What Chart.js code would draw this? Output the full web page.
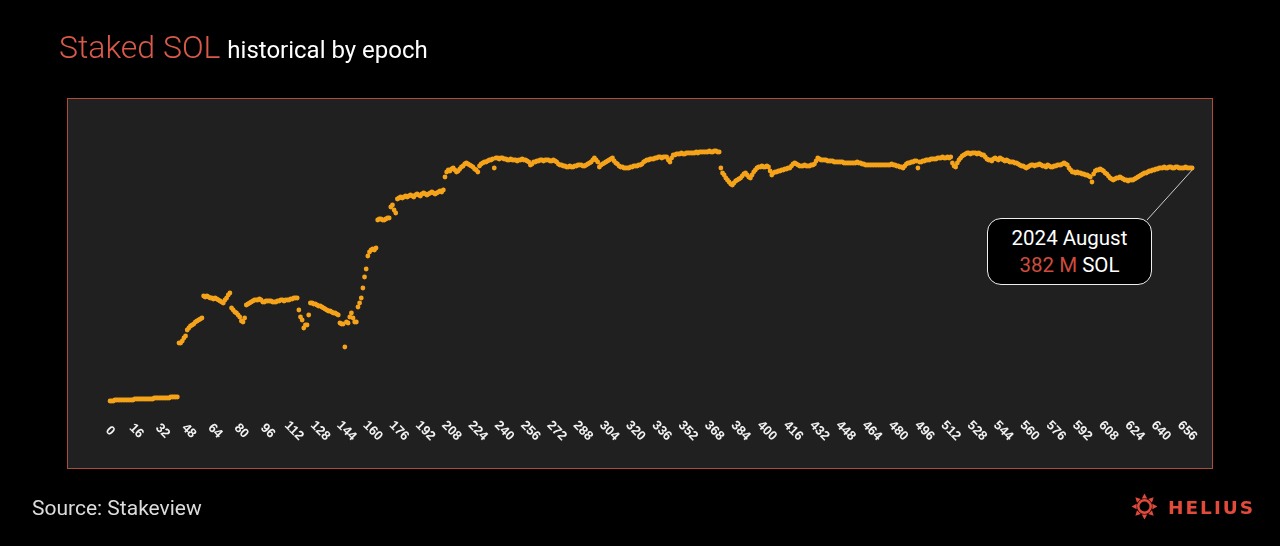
<!DOCTYPE html>
<html>
<head>
<meta charset="utf-8">
<script src="https://cdn.jsdelivr.net/npm/chart.js@4.4.1/dist/chart.umd.min.js"></script>
<style>
  html,body{margin:0;padding:0;background:#000;}
  #wrap{position:relative;width:1280px;height:546px;overflow:hidden;background:#000;font-family:Roboto,"Noto Sans",sans-serif;}
  #chartBox{position:absolute;left:0;top:0;width:1280px;height:546px;}
  #title{position:absolute;left:59px;top:31px;line-height:32px;white-space:nowrap;font-weight:300;}
  #title .a{color:#d95a4a;font-size:32px;}
  #title .b{color:#fff;font-size:24px;font-weight:400;margin-left:3px;}
  #source{position:absolute;left:32px;top:498px;font-size:21px;line-height:21px;color:#dcdcdc;}
  #logo{position:absolute;left:1131px;top:493px;width:27px;height:27px;}
  #logoText{position:absolute;left:1168px;top:499px;font-family:"DejaVu Sans",sans-serif;font-weight:bold;font-size:18.5px;line-height:18px;letter-spacing:2px;color:#e24a3b;}
  #note{position:absolute;left:987px;top:218px;width:165px;height:67px;box-sizing:border-box;border:1.5px solid #eee;border-radius:14px;background:#000;text-align:center;padding-top:6px;font-size:20.5px;line-height:27px;color:#fff;}
  #note .r{color:#cf4b3e;}
</style>
</head>
<body>
<div id="wrap">
  <div id="chartBox"><canvas id="c"></canvas></div>
  <div id="title"><span class="a">Staked SOL</span> <span class="b">historical by epoch</span></div>
  <div id="note"><div>2024 August</div><div><span class="r">382 M</span> SOL</div></div>
  <div id="source">Source: Stakeview</div>
  <svg id="logo" viewBox="-13 -13 26 26">
    <circle cx="0" cy="0" r="6" fill="none" stroke="#e24a3b" stroke-width="2.4"/>
    <g fill="#e24a3b">
      <polygon points="-2.6,-7.6 2.6,-7.6 0,-12.5"/>
      <polygon points="-2.6,-7.6 2.6,-7.6 0,-12.5" transform="rotate(45)"/>
      <polygon points="-2.6,-7.6 2.6,-7.6 0,-12.5" transform="rotate(90)"/>
      <polygon points="-2.6,-7.6 2.6,-7.6 0,-12.5" transform="rotate(135)"/>
      <polygon points="-2.6,-7.6 2.6,-7.6 0,-12.5" transform="rotate(180)"/>
      <polygon points="-2.6,-7.6 2.6,-7.6 0,-12.5" transform="rotate(225)"/>
      <polygon points="-2.6,-7.6 2.6,-7.6 0,-12.5" transform="rotate(270)"/>
      <polygon points="-2.6,-7.6 2.6,-7.6 0,-12.5" transform="rotate(315)"/>
    </g>
  </svg>
  <div id="logoText">HELIUS</div>
</div>
<script>
// Staked SOL (millions) per epoch, grouped in runs; each run starts at the epoch in segStarts
const segStarts = [0, 42, 57, 74, 83, 115, 122, 140, 158, 163, 171, 175, 203, 227, 243, 258, 273, 292, 327, 354, 372, 406, 434, 458, 485, 511, 536, 558, 639];
const segValues = [
  [149,149,149,150,150,150,150,150,150,150, 150,150,150,150,150,151,151,151,151,151, 151,151,151,151,151,151,151,152,152,152, 152,152,152,152,152,152,152,153,153,153, 153,153],
  [207,207,209,212,214,220,222,224,225,226,228,229,230,231,232],
  [254,253,254,253,252,252,251,252,251,250,249,248,247,250,252,255,257],
  [242,240,238,237,235,233,229,228,232],
  [245,246,247,248,249,250,250,250,251,250, 248,248,249,249,249,249,248,248,248,249, 249,250,250,249,250,250,250,251,251,252, 252,252],
  [240,233,230,222,225,225,235],
  [247,247,246,246,245,244,244,243,242,241,240,239,239,238,237,237,236,235],
  [227,226,226,203,228,227,233,237,232,228,228,243,247,252,262,273,281,294],
  [298,300,301,300,302],
  [330,331,331,330,330,331,332,332],
  [343,345,340,337],
  [351,352,353,352,353,354,353,354,355,354,353,355,356,355,354,356,357,356,355,356,357,358,357,356,357,358,359,358],
  [360,373,378,380,379,381,382,380,378,379, 381, 383,384,386, 387, 386,385,384,383,381,380, 378, 384,386],
  [387,388,388,389,390,390,391,382,392,392,391,392,392,391,391,390],
  [390,391,390,390,390,389,390,390,391,390,390,389,388,385,386],
  [388,388,389,389,390,390,389,390,390,390,389,389,390,389,388],
  [386,385,385,384,384,383,383,384,383,383,384,384,385,385,385,384,384,385,386],
  [387,388,390,392,390,388, 383, 385,386,387,388,389,390,391, 392, 389,387,386,384, 383,383,382,382,382, 382,383,383,384,384,384,385, 385, 386,388,389],
  [390,390,391,391,391,392,392,393,393,392,393,393,393, 390,388,392, 395,395,396,396,396,397,396,396,397,397,397],
  [397,397,397,398,397,398,398,398,398,398,398,399,398,398,399,399,398,398],
  [382,377,375,372,370,368,366,365,367,369, 370,371,372,374,376,377,375,373,372,375, 378,380,382,383, 383,384,383,383,384,383, 379,375,377,378],
  [378,379,379,380,380,381,381,382,382, 384,386, 387, 386,385, 384,384,384,385,384,384,384,385,385,386, 389,392,391,390],
  [390,390,390,389,389,389,389,388,388,388,388,388,388,387,387,387,387,387,387,387,387,388,387,387],
  [386,386,385,385,385,385,385,385,385,385,385,385,385,385,385,385,385,385,386,385,385,384,384,383, 383,382,384],
  [386,387,387,388,388,389,389,382,388,388, 389,389,390,390,390,391,391,391,391,392, 392,392,393,392,392,393],
  [392,393, 387,384,383, 387,390,392,394,395,396, 397,397,396,397,397,397,396,397,396,395,395, 393,391,390],
  [390, 389,391,392,391,390, 392, 391,390,389,390,389,388,388, 388, 387,387, 386,385,384,384,383],
  [382,383,384,385,385,384,385,385,386,
   385,384,384,383,385,384,383,383,384,384,385,385,
   385,386,387,386,385,
   382,380,378,
   378,377,378,377,
   377,
   376,376,375,
   375,374,373,368,376,379,
   380,380,381,380,379,
   377,376,374,372,371,
   370,
   371,372,372,
   373,
   372,371,370,370,369,370,370,
   370,
   371,372,373,374,375,376,377,377,
   378,
   379,379,380,380,381,381],
  [382,382,382,383,382,382,383,383,382,382,383,383,382,382,382,382,383,382,382,382,382]
];
const tickLabels = [0,16,32,48,64,80,96,112,128,144,160,176,192,208,224,240,256,272,288,304,320,336,352,368,384,400,416,432,448,464,480,496,512,528,544,560,576,592,608,624,640,656];

const points = [];
segStarts.forEach((s, i) => {
  segValues[i].forEach((v, j) => points.push({x: s + j, y: v}));
});
const lastPoint = points[points.length - 1];

const frameAndTicks = {
  id: 'frameAndTicks',
  beforeDraw(chart) {
    const {ctx, chartArea: a} = chart;
    ctx.save();
    ctx.fillStyle = '#202020';
    ctx.fillRect(a.left, a.top, a.right - a.left, a.bottom - a.top);
    ctx.restore();
  },
  afterDraw(chart) {
    const {ctx, chartArea: a} = chart;
    const xs = chart.scales.x, ys = chart.scales.y;
    ctx.save();
    ctx.strokeStyle = '#b04a3c';
    ctx.lineWidth = 1;
    ctx.strokeRect(a.left + 0.5, a.top + 0.5, a.right - a.left - 1, a.bottom - a.top - 1);
    ctx.fillStyle = '#f2f2f2';
    ctx.font = 'bold 13px "Liberation Sans", Arial, sans-serif';
    ctx.textAlign = 'center';
    ctx.textBaseline = 'middle';
    tickLabels.forEach(t => {
      const px = xs.getPixelForValue(t);
      ctx.save();
      ctx.translate(px, 431);
      ctx.rotate(Math.PI / 4);
      ctx.fillText(String(t), 0, 0);
      ctx.restore();
    });
    // connector line from last point to callout
    const lx = xs.getPixelForValue(lastPoint.x), ly = ys.getPixelForValue(lastPoint.y);
    ctx.strokeStyle = '#cfcfcf';
    ctx.lineWidth = 1;
    ctx.beginPath();
    ctx.moveTo(lx, ly + 2);
    ctx.lineTo(1147, 220);
    ctx.stroke();
    ctx.restore();
  }
};

new Chart(document.getElementById('c'), {
  type: 'scatter',
  data: {
    datasets: [{
      data: points,
      backgroundColor: '#f5a31a',
      borderWidth: 0,
      pointRadius: 2.4,
      pointHoverRadius: 2.4
    }]
  },
  options: {
    responsive: true,
    maintainAspectRatio: false,
    animation: false,
    layout: {padding: {left: 67, right: 67, top: 98, bottom: 77}},
    plugins: {legend: {display: false}, tooltip: {enabled: false}},
    scales: {
      x: {type: 'linear', display: false, min: -26.2, max: 671.7},
      y: {type: 'linear', display: false, min: 81, max: 452}
    }
  },
  plugins: [frameAndTicks]
});
</script>
</body>
</html>
